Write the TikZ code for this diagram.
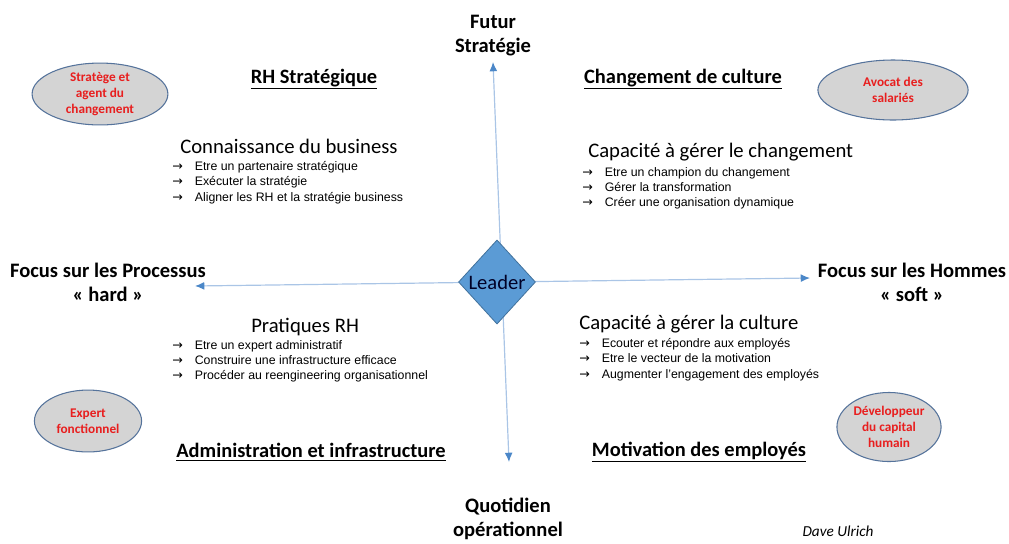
\documentclass[tikz,border=0pt]{standalone}
\usepackage{fontspec}
\setmainfont{Carlito}
\newfontfamily\arialfont{Liberation Sans}
\newfontfamily\arrowfont{DejaVu Sans}
\usepackage{tikz}
\usetikzlibrary{shapes,arrows.meta,positioning,calc}
\definecolor{axisline}{RGB}{170,197,230}
\definecolor{axistip}{RGB}{75,135,200}
\definecolor{leaderblue}{RGB}{91,155,213}
\definecolor{leaderedge}{RGB}{65,113,156}
\definecolor{rolegray}{RGB}{212,212,212}
\definecolor{roleedge}{RGB}{85,115,155}
\definecolor{rolered}{RGB}{232,30,30}
\newcommand{\itemarrow}{\makebox[17pt][l]{{\arrowfont\fontsize{9.5}{11.6}\selectfont →}}}

\begin{document}
\begin{tikzpicture}[x=0.0265cm, y=-0.0265cm,
    axis/.style={{Latex[length=7pt,width=6pt,color=axistip]}-{Latex[length=7pt,width=6pt,color=axistip]}, draw=axisline, line width=0.9pt},
    pole/.style={font=\fontsize{15.5}{18}\selectfont\bfseries, align=center, inner sep=0pt},
    quadtitle/.style={font=\fontsize{15.4}{17}\selectfont\bfseries, inner sep=0pt},
    heading/.style={font=\fontsize{15.6}{17}\selectfont, inner sep=0pt, anchor=west},
    items/.style={font=\arialfont\fontsize{9.3}{11.6}\selectfont, align=left, inner sep=0pt, anchor=north west},
    role/.style={ellipse, draw=roleedge, fill=rolegray, line width=0.8pt, text=rolered, font=\fontsize{10}{12}\selectfont\bfseries, align=center, inner sep=0pt},
    leader/.style={diamond, draw=leaderedge, fill=leaderblue, line width=0.6pt, text={black!85!blue}, font=\fontsize{15.5}{17}\selectfont, inner sep=0pt, minimum width=2.04cm, minimum height=2.23cm}
]
    \useasboundingbox (0,0) rectangle (1009,543);

    % axes
    \coordinate (up) at (493,62);
    \coordinate (down) at (509,462);
    \coordinate (left) at (195,286);
    \coordinate (right) at (810,278);
    \draw[axis] (down) -- (up);
    \draw[axis] (left) -- (right);

    \node[leader] (leader) at (497,282) {Leader};

    \node[pole] (futur) at (493,36) {Futur\\Stratégie};
    \node[pole] (quotidien) at (508,519) {Quotidien\\opérationnel};
    \node[pole] (process) at (108,282) {Focus sur les Processus\\« hard »};
    \node[pole] (hommes) at (912,282) {Focus sur les Hommes\\« soft »};

    % quadrant titles
    \node[quadtitle] (rhstrat) at (314,79) {\underline{RH Stratégique}};
    \node[quadtitle] (culture) at (683,79) {\underline{Changement de culture}};
    \node[quadtitle] (admin) at (311,452) {\underline{Administration et infrastructure}};
    \node[quadtitle] (motiv) at (699,452) {\underline{Motivation des employés}};

    % roles
    \node[role, minimum width=3.6cm, minimum height=1.64cm] (stratege) at (100,94) {Stratège et\\agent du\\changement};
    \node[role, minimum width=3.98cm, minimum height=1.59cm] (avocat) at (893,90) {Avocat des\\salariés};
    \node[role, minimum width=2.84cm, minimum height=1.64cm] (expert) at (88,421) {Expert\\fonctionnel};
    \node[role, minimum width=2.76cm, minimum height=1.83cm] (developpeur) at (889,427) {Développeur\\du capital\\humain};

    % blocks
    \node[heading] (business) at (180,146) {Connaissance du business};
    \node[items] (business-items) at (172,161) {\itemarrow Etre un partenaire stratégique\\\itemarrow Exécuter la stratégie\\\itemarrow Aligner les RH et la stratégie business};

    \node[heading] (changement) at (588,152) {Capacité à gérer le changement};
    \node[items] (changement-items) at (582,167) {\itemarrow Etre un champion du changement\\\itemarrow Gérer la transformation\\\itemarrow Créer une organisation dynamique};

    \node[heading] (pratiques) at (251,327) {Pratiques RH};
    \node[items] (pratiques-items) at (172,340) {\itemarrow Etre un expert administratif\\\itemarrow Construire une infrastructure efficace\\\itemarrow Procéder au reengineering organisationnel};

    \node[heading] (gestculture) at (579,324) {Capacité à gérer la culture};
    \node[items] (gestculture-items) at (579,338) {\itemarrow Ecouter et répondre aux employés\\\itemarrow Etre le vecteur de la motivation\\\itemarrow Augmenter l’engagement des employés};

    \node[font=\fontsize{11.5}{13}\selectfont\itshape, inner sep=0pt] (ulrich) at (838,531) {Dave Ulrich};
\end{tikzpicture}
\end{document}
